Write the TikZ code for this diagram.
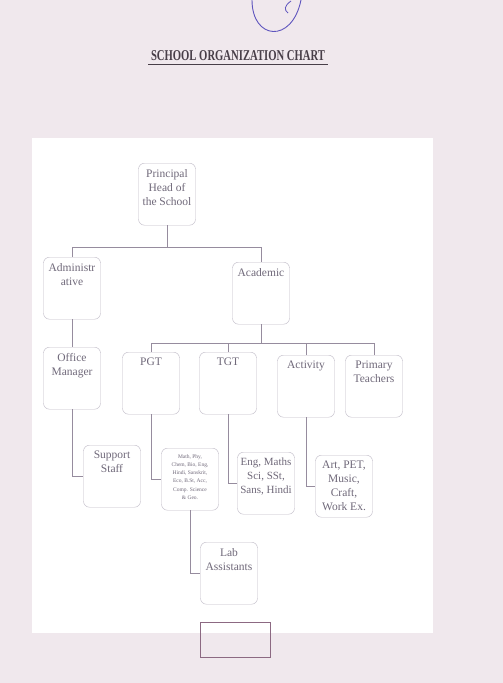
\documentclass[tikz,border=0pt]{standalone}
\usepackage{fontspec}
\setmainfont{Liberation Serif}
\definecolor{paperbg}{RGB}{240,232,237}
\definecolor{inkgray}{RGB}{112,105,122}
\definecolor{linegray}{RGB}{150,140,158}
\definecolor{boxgray}{RGB}{190,185,198}
\definecolor{stampblue}{RGB}{95,85,190}
\definecolor{titleink}{RGB}{72,62,72}
\definecolor{pagebox}{RGB}{140,105,130}
\newcommand{\boxtext}[1]{\parbox[t][50pt][t]{54pt}{\centering #1}}
\tikzset{
  unit/.style={draw=boxgray, rounded corners=6pt, inner xsep=1.5pt, inner ysep=6pt,
    anchor=north, text=inkgray, font=\fontsize{11.5}{14}\selectfont},
  link/.style={draw=linegray, line width=0.8pt}
}
\begin{document}
\begin{tikzpicture}[x=1pt,y=-1pt]
          \useasboundingbox (0,0) rectangle (503,683);
          \fill[paperbg] (0,0) rectangle (503,683);
          \fill[white] (32,138) rectangle (433,633);
          % stamp at the top
          \draw[stampblue, line width=0.9pt] (252,0) .. controls (252,40) and (292,44) .. (301,0);
          \draw[stampblue, line width=0.8pt] (291,1) .. controls (284,6) and (284,10) .. (288,13);
          \node[text=titleink, font=\fontsize{15}{17}\selectfont\bfseries, xscale=0.71] (title) at (238,56) {SCHOOL ORGANIZATION CHART};
          \draw[titleink, line width=0.9pt] (title.south west) -- (title.south east);
          \node[unit] (principal) at (167,163) {\boxtext{Principal\\Head of\\the School}};
          \node[unit] (admin) at (72,257) {\boxtext{Administr\\ative}};
          \node[unit] (academic) at (261,262) {\boxtext{Academic}};
          \node[unit] (office) at (72,347) {\boxtext{Office\\Manager}};
          \node[unit] (pgt) at (151,352) {\boxtext{PGT}};
          \node[unit] (tgt) at (228,352) {\boxtext{TGT}};
          \node[unit] (activity) at (306,355) {\boxtext{Activity}};
          \node[unit] (primary) at (374,355) {\boxtext{Primary\\Teachers}};
          \node[unit] (support) at (112,445) {\boxtext{Support\\Staff}};
          \node[unit] (pgtsub) at (190,448) {\boxtext{\fontsize{5.5}{8.3}\selectfont Math, Phy,\\Chem, Bio, Eng,\\Hindi, Sanskrit,\\Eco, B.St, Acc,\\Comp. Science\\\& Geo.}};
          \node[unit] (tgtsub) at (266,452) {\boxtext{\fontsize{11}{14}\selectfont Eng, Maths\\Sci, SSt,\\Sans, Hindi}};
          \node[unit] (actsub) at (344,455) {\boxtext{Art, PET,\\Music,\\Craft,\\Work Ex.}};
          \node[unit] (lab) at (229,542) {\boxtext{Lab\\Assistants}};
          \node[draw=pagebox, line width=0.8pt, minimum width=70pt, minimum height=35pt] (pageno) at (235,640) {};
          \coordinate (bus1) at (0,247);
          \coordinate (bus2) at (0,343);
          \draw[link] (principal.south) -- (principal.south |- bus1);
          \draw[link] (admin.north) |- (academic.north |- bus1) -- (academic.north);
          \draw[link] (admin) -- (office);
          \draw[link] (academic.south) -- (academic.south |- bus2);
          \draw[link] (pgt.north) |- (primary.north |- bus2) -- (primary.north);
          \draw[link] (tgt.north) -- (tgt.north |- bus2);
          \draw[link] (activity.north) -- (activity.north |- bus2);
          \draw[link] (office.south) |- (support.west);
          \draw[link] (pgt.south) |- (pgtsub.west);
          \draw[link] (tgt.south) |- (tgtsub.west);
          \draw[link] (activity.south) |- (actsub.west);
          \draw[link] (pgtsub.south) |- (lab.west);
        \end{tikzpicture}
\end{document}
